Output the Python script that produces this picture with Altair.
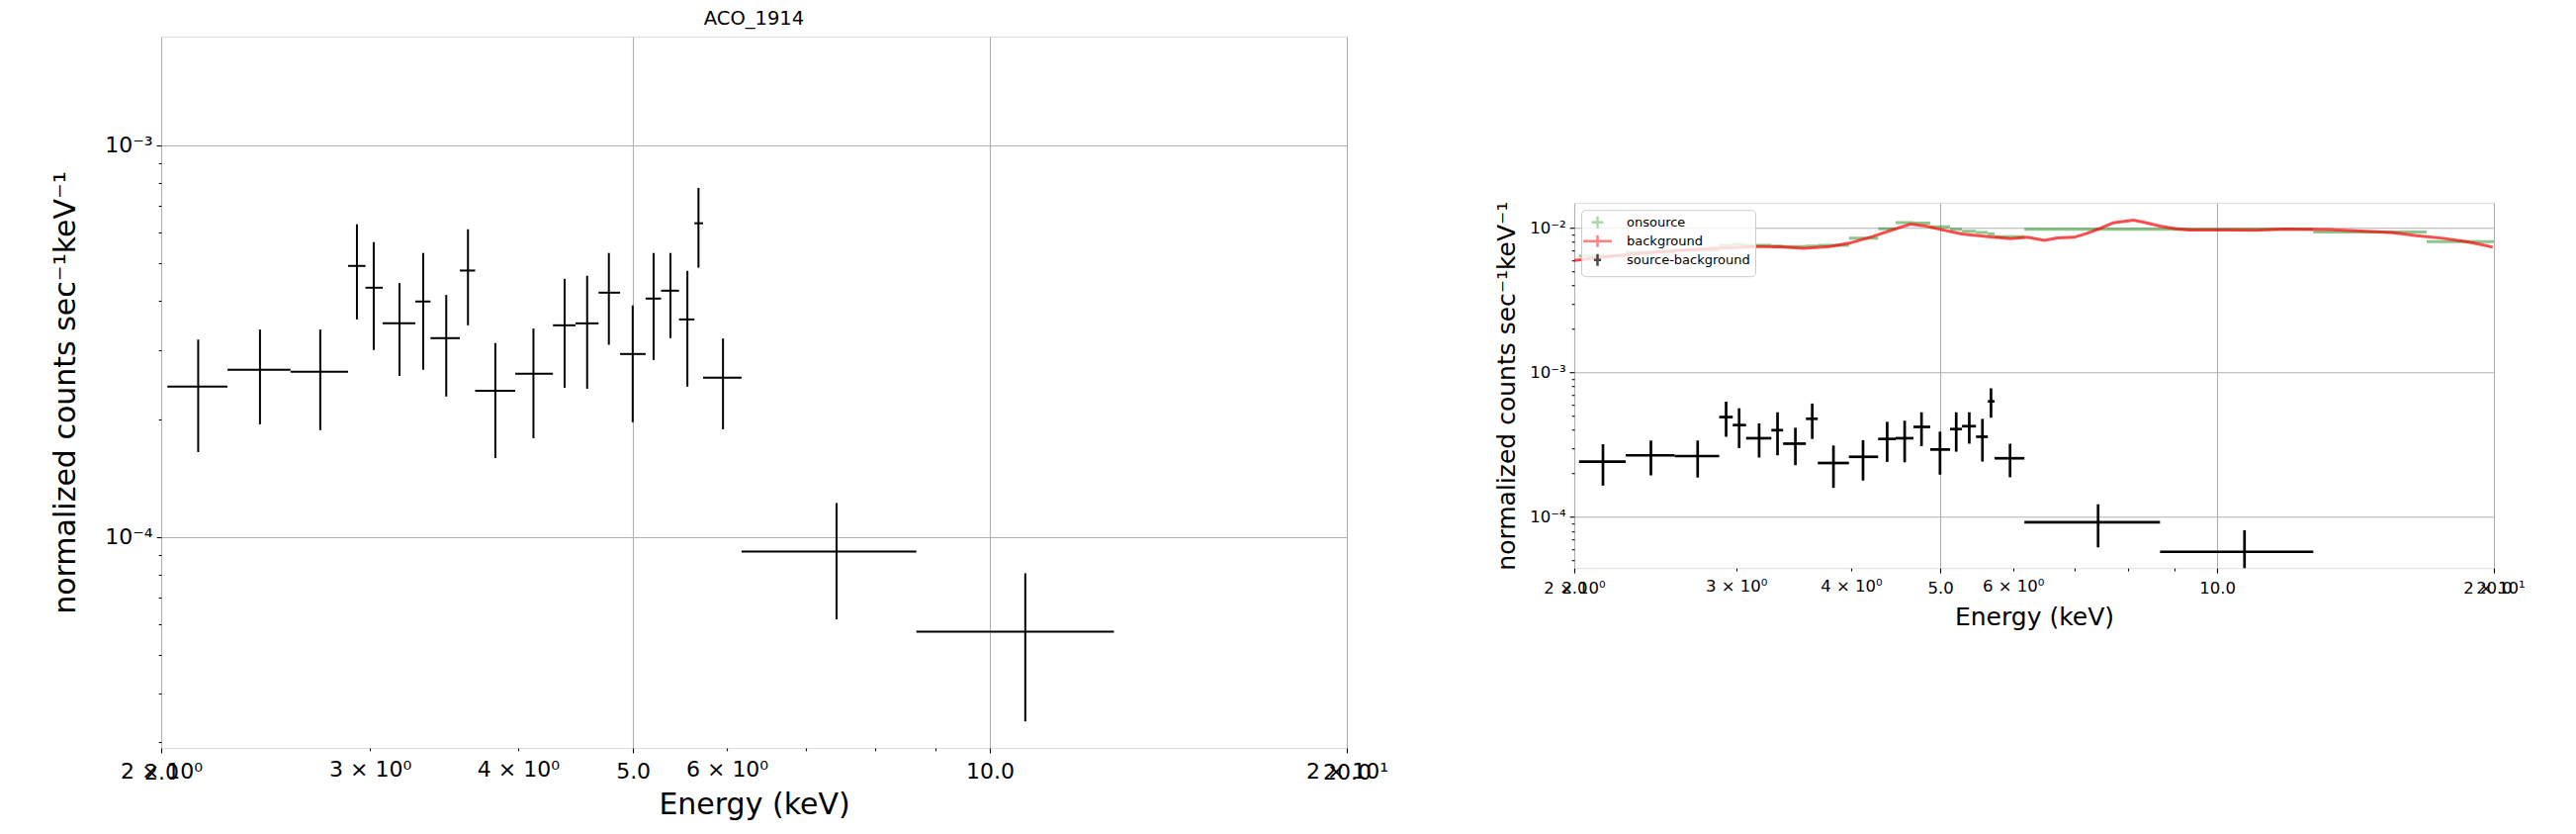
import altair as alt
import pandas as pd

FONT = "DejaVu Sans"

# ---------------- source - background spectrum ----------------
e_mid = [2.149, 2.423, 2.724, 2.925, 3.022, 3.177, 3.327, 3.479, 3.629, 3.827, 4.121,
         4.378, 4.574, 4.771, 4.997, 5.204, 5.377, 5.557, 5.678, 5.955, 7.424, 10.711]
e_lo = [2.024, 2.275, 2.571, 2.875, 2.974, 3.075, 3.276, 3.374, 3.572, 3.680, 3.978,
        4.280, 4.472, 4.676, 4.876, 5.124, 5.280, 5.468, 5.633, 5.729, 6.173, 8.669]
e_hi = [2.275, 2.571, 2.875, 2.974, 3.075, 3.276, 3.374, 3.572, 3.680, 3.978, 4.280,
        4.472, 4.676, 4.876, 5.124, 5.280, 5.468, 5.633, 5.729, 6.173, 8.669, 12.723]
rate = [2.419e-4, 2.672e-4, 2.640e-4, 4.917e-4, 4.326e-4, 3.509e-4, 3.989e-4, 3.217e-4,
        4.785e-4, 2.363e-4, 2.609e-4, 3.469e-4, 3.509e-4, 4.202e-4, 2.931e-4, 4.059e-4,
        4.251e-4, 3.591e-4, 6.316e-4, 2.549e-4, 9.19e-5, 5.74e-5]
rate_up = [3.19e-4, 3.383e-4, 3.383e-4, 6.277e-4, 5.654e-4, 4.445e-4, 5.305e-4, 4.146e-4,
           6.098e-4, 3.125e-4, 3.402e-4, 4.558e-4, 4.639e-4, 5.305e-4, 3.897e-4, 5.305e-4,
           5.305e-4, 4.776e-4, 7.773e-4, 3.210e-4, 1.222e-4, 8.09e-5]
rate_dn = [1.648e-4, 1.940e-4, 1.874e-4, 3.591e-4, 3.0e-4, 2.578e-4, 2.672e-4, 2.283e-4,
           3.469e-4, 1.591e-4, 1.788e-4, 2.404e-4, 2.390e-4, 3.094e-4, 1.963e-4, 2.830e-4,
           3.217e-4, 2.419e-4, 4.866e-4, 1.884e-4, 6.17e-5, 3.39e-5]

# ---------------- onsource (binned) ----------------
on_lo = [2.024, 2.275, 2.571, 2.875, 2.974, 3.075, 3.276, 3.374, 3.572, 3.680, 3.978, 4.280,
         4.472, 4.676, 4.876, 5.124, 5.280, 5.468, 5.633, 5.729, 6.173, 8.669, 12.723, 16.9]
on_hi = [2.275, 2.571, 2.875, 2.974, 3.075, 3.276, 3.374, 3.572, 3.680, 3.978, 4.280, 4.472,
         4.676, 4.876, 5.124, 5.280, 5.468, 5.633, 5.729, 6.173, 8.669, 12.723, 16.9, 22.0]
on_rate = [6.4e-3, 6.8e-3, 7.0e-3, 7.6e-3, 7.7e-3, 7.6e-3, 7.5e-3, 7.45e-3, 7.5e-3, 7.6e-3,
           8.5e-3, 9.9e-3, 1.09e-2, 1.08e-2, 1.02e-2, 9.8e-3, 9.5e-3, 9.3e-3, 9.1e-3, 8.7e-3,
           9.8e-3, 9.8e-3, 9.4e-3, 8.05e-3]

# ---------------- background ----------------
bkg_e = [2.00, 2.216, 2.42, 2.508, 2.838, 3.16, 3.35, 3.55, 3.79, 3.98, 4.12, 4.22, 4.43,
         4.64, 4.82, 5.00, 5.28, 5.64, 5.97, 6.22, 6.49, 6.70, 6.99, 7.22, 7.46, 7.71, 8.11,
         8.38, 8.66, 9.02, 9.33, 10.0, 11.0, 11.85, 13.20, 14.33, 15.56, 16.49, 17.61, 18.66,
         19.45, 19.94]
bkg_rate = [5.97e-3, 6.43e-3, 6.77e-3, 6.89e-3, 7.25e-3, 7.45e-3, 7.40e-3, 7.25e-3, 7.45e-3,
            7.85e-3, 8.36e-3, 8.72e-3, 9.69e-3, 1.065e-2, 1.032e-2, 9.78e-3, 9.10e-3, 8.72e-3,
            8.45e-3, 8.63e-3, 8.22e-3, 8.54e-3, 8.63e-3, 9.18e-3, 9.94e-3, 1.087e-2, 1.135e-2,
            1.087e-2, 1.032e-2, 9.89e-3, 9.69e-3, 9.69e-3, 9.65e-3, 9.84e-3, 9.75e-3, 9.54e-3,
            9.28e-3, 8.85e-3, 8.49e-3, 8.06e-3, 7.65e-3, 7.37e-3]

legend_names = ["onsource", "background", "source-background"]
legend_colors = ["#88c488", "#ff4c4c", "#000000"]
legend_paths = ["M-1,0H1M0,-1V1", "M-2.4,0H2.4M0,-1V1", "M-0.6,0H0.6M0,-1V1"]

# ---------------- ticks ----------------
x_ticks = [2, 3, 4, 5, 6, 7, 8, 9, 10, 20]
x_major = [2, 5, 10, 20]
x_labels = {2: "2 × 10⁰", 3: "3 × 10⁰", 4: "4 × 10⁰", 5: "5.0", 6: "6 × 10⁰", 10: "10.0",
            20: "2 × 10¹"}
x_labels2 = {2: "2.0", 20: "20.0"}
y_ticks_left = [3e-5, 4e-5, 5e-5, 6e-5, 7e-5, 8e-5, 9e-5, 1e-4, 2e-4, 3e-4, 4e-4, 5e-4,
                6e-4, 7e-4, 8e-4, 9e-4, 1e-3]
y_ticks_right = [5e-5, 6e-5, 7e-5, 8e-5, 9e-5, 1e-4, 2e-4, 3e-4, 4e-4, 5e-4, 6e-4, 7e-4,
                 8e-4, 9e-4, 1e-3, 2e-3, 3e-3, 4e-3, 5e-3, 6e-3, 7e-3, 8e-3, 9e-3, 1e-2]
y_major = [1e-2, 1e-3, 1e-4]
y_labels = {1e-2: "10⁻²", 1e-3: "10⁻³", 1e-4: "10⁻⁴"}

YTITLE = "normalized counts sec⁻¹keV⁻¹"


def label_expr(d):
    s = ""
    for k, v in d.items():
        s += f"datum.value == {k!r} ? '{v}' : "
    return s + "''"


def major_test(vals):
    return "indexof([" + ",".join(repr(v) for v in vals) + "], datum.value) >= 0"


src = pd.DataFrame(dict(mid=e_mid, lo=e_lo, hi=e_hi, rate=rate, rup=rate_up, rdn=rate_dn))
on = pd.DataFrame(dict(lo=on_lo, hi=on_hi, rate=on_rate))
bkg = pd.DataFrame(dict(E=bkg_e, rate=bkg_rate))
leg = pd.DataFrame(dict(name=legend_names, E=[3.0, 3.0, 3.0], rate=[1e-3, 1e-3, 1e-3]))


def panel(w, h, ydom, yticks, tick_fs, title_fs, lw, lab_pad, x_tpad, y_tpad, right=False):
    xs = alt.Scale(type="log", domain=[2, 20], nice=False)
    ys = alt.Scale(type="log", domain=ydom, nice=False)
    xa = alt.Axis(
        values=x_ticks, labelExpr=label_expr(x_labels), labelOverlap=False, labelFlush=False,
        labelFont=FONT, labelFontSize=tick_fs, labelColor="black", labelPadding=lab_pad,
        title="Energy (keV)", titleFont=FONT, titleFontSize=title_fs, titleFontWeight="normal",
        titleColor="black", titlePadding=x_tpad, grid=True, gridColor="#b0b0b0", gridWidth=1.1,
        gridOpacity={"condition": {"test": major_test(x_major), "value": 1}, "value": 0},
        domain=False, tickColor="black", tickWidth=1.1,
        tickSize={"condition": {"test": major_test(x_major), "value": 4.9}, "value": 2.8},
        orient="bottom")
    xa2 = alt.Axis(
        values=[2, 20], labelExpr=label_expr(x_labels2), labelOverlap=False, labelFlush=False,
        labelFont=FONT, labelFontSize=tick_fs, labelColor="black", labelPadding=lab_pad + 5,
        title=None, grid=False, domain=False, ticks=False, orient="bottom")
    ya = alt.Axis(
        values=yticks, labelExpr=label_expr(y_labels), labelOverlap=False, labelFlush=False,
        labelFont=FONT, labelFontSize=tick_fs, labelColor="black", labelPadding=4,
        title=YTITLE, titleFont=FONT, titleFontSize=title_fs, titleFontWeight="normal",
        titleColor="black", titlePadding=y_tpad, grid=True, gridColor="#b0b0b0", gridWidth=1.1,
        gridOpacity={"condition": {"test": major_test(y_major), "value": 1}, "value": 0},
        domain=False, tickColor="black", tickWidth=1.1,
        tickSize={"condition": {"test": major_test(y_major), "value": 4.9}, "value": 2.8},
        orient="left")

    layers = []
    if right:
        green = alt.Chart(on).mark_rule(color="green", opacity=0.45, strokeWidth=3, clip=True).encode(
            x=alt.X("lo:Q", scale=xs, axis=xa), x2="hi:Q",
            y=alt.Y("rate:Q", scale=ys, axis=ya))
        red = alt.Chart(bkg).mark_line(color="red", opacity=0.7, strokeWidth=3, clip=True).encode(
            x=alt.X("E:Q", scale=xs, axis=None),
            y=alt.Y("rate:Q", scale=ys, axis=ya))
        layers += [green, red]
        hx_axis = None
    else:
        hx_axis = xa
    hbar = alt.Chart(src).mark_rule(color="black", strokeWidth=lw, clip=True).encode(
        x=alt.X("lo:Q", scale=xs, axis=hx_axis), x2="hi:Q",
        y=alt.Y("rate:Q", scale=ys, axis=ya))
    vbar = alt.Chart(src).mark_rule(color="black", strokeWidth=lw, clip=True).encode(
        x=alt.X("mid:Q", scale=xs, axis=xa2),
        y=alt.Y("rdn:Q", scale=ys, axis=ya), y2="rup:Q")
    layers += [hbar, vbar]
    if right:
        lg = alt.Legend(
            orient="top-left", offset=7, title=None, labelFont=FONT, labelFontSize=13,
            labelColor="black", symbolSize=144, symbolStrokeWidth=2.5, padding=5,
            rowPadding=-4, labelOffset=22, symbolOffset=4, fillColor="rgba(255,255,255,0.8)",
            strokeColor="#cccccc", cornerRadius=4, labelLimit=400)
        dummy = alt.Chart(leg).transform_filter("false").mark_point(
            filled=False, strokeWidth=2.5, size=144).encode(
            x=alt.X("E:Q", scale=xs, axis=None),
            y=alt.Y("rate:Q", scale=ys, axis=ya),
            color=alt.Color("name:N", scale=alt.Scale(domain=legend_names, range=legend_colors), legend=lg),
            shape=alt.Shape("name:N", scale=alt.Scale(domain=legend_names, range=legend_paths), legend=lg))
        layers.append(dummy)
    return alt.layer(*layers).properties(width=w, height=h).resolve_axis(x="independent")


left = panel(1199, 719, [2.9e-5, 1.89e-3], y_ticks_left, 22, 30, 2, 9, 8, 24).properties(
    title=alt.TitleParams("ACO_1914", font=FONT, fontSize=19.5, fontWeight="normal",
                          color="black", offset=8, anchor="middle"))
right = panel(930, 369, [4.43e-5, 1.49e-2], y_ticks_right, 16.5, 25, 2.7, 7, 9, 10, right=True)

spacer = alt.Chart(pd.DataFrame({"a": [0]})).mark_text(text=" ").properties(
    width=930, height=160, view=alt.ViewBackground(strokeOpacity=0))

right_col = alt.vconcat(spacer, right, spacing=8.2, bounds="flush").resolve_scale(
    color="independent", shape="independent")

chart = alt.hconcat(left, right_col, spacing=230, bounds="flush").resolve_scale(
    color="independent", shape="independent").properties(
    padding={"left": 43, "top": 0, "right": 5, "bottom": 5}
).configure_view(stroke="black", strokeWidth=1.1).configure(font=FONT)

chart.save("out.html", embed_options={"renderer": "svg", "actions": False})
